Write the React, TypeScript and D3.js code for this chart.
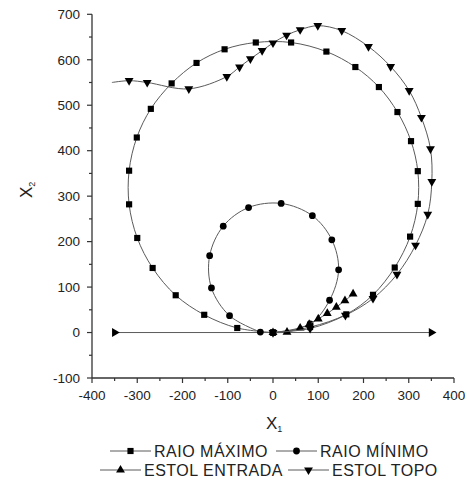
import React from "react";
import * as d3 from "d3";

type P = [number, number];

const xTicks = [-400, -300, -200, -100, 0, 100, 200, 300, 400];
const yTicks = [-100, 0, 100, 200, 300, 400, 500, 600, 700];

const raioMaximo: P[] = [
  [0, 0], [-79, 10], [-152, 39], [-215, 82], [-266, 142], [-300, 208], [-318, 282],
  [-318, 356], [-301, 429], [-270, 492], [-224, 548], [-169, 593], [-107, 623],
  [-38, 638], [40, 638], [118, 618], [182, 584], [234, 540], [275, 485], [305, 421],
  [320, 355], [320, 283], [303, 211], [269, 143], [221, 83], [162, 40], [82, 12], [0, 0],
];

const raioMinimo: P[] = [
  [0, 0], [82, 19], [125, 71], [145, 138], [130, 204], [87, 257], [18, 284],
  [-54, 275], [-110, 234], [-140, 169], [-136, 98], [-96, 37], [-28, 1],
];

const estolEntrada: P[] = [
  [0, 0], [31, 1], [60, 10], [80, 18], [100, 30], [120, 42], [140, 56], [159, 70], [177, 85],
];

const estolTopo: P[] = [
  [0, 0], [82, 9], [160, 38], [221, 75], [274, 128], [315, 192], [342, 260], [351, 332],
  [348, 404], [328, 473], [301, 532], [260, 585], [211, 629], [152, 664], [99, 675],
  [60, 666], [30, 654], [0, 637], [-24, 620], [-50, 602], [-74, 584], [-102, 563],
  [-186, 536], [-278, 550], [-318, 554],
];
const estolTopoTail: P[] = [[-356, 550]];

const eixo: P[] = [[-350, 0], [350, 0]];

const legendRow1 = ["RAIO MÁXIMO", "RAIO MÍNIMO"];
const legendRow2 = ["ESTOL ENTRADA", "ESTOL TOPO"];

const W = 467;
const H = 481;

const x = d3.scaleLinear().domain([-400, 400]).range([92, 454]);
const y = d3.scaleLinear().domain([-100, 700]).range([378, 14.3]);

const line = d3
  .line<P>()
  .x((d) => x(d[0]))
  .y((d) => y(d[1]))
  .curve(d3.curveCatmullRom.alpha(0.5));

const sym = {
  square: d3.symbol().type(d3.symbolSquare).size(38)()!,
  circle: d3.symbol().type(d3.symbolCircle).size(36)()!,
  tri: d3.symbol().type(d3.symbolTriangle).size(34)()!,
};

type Kind = "square" | "circle" | "up" | "down" | "right";

function Marker({ cx, cy, kind }: { cx: number; cy: number; kind: Kind }) {
  if (kind === "square") return <path d={sym.square} transform={`translate(${cx},${cy})`} fill="#000" />;
  if (kind === "circle") return <path d={sym.circle} transform={`translate(${cx},${cy})`} fill="#000" />;
  const rot = kind === "up" ? 0 : kind === "down" ? 180 : 90;
  return <path d={sym.tri} transform={`translate(${cx},${cy}) rotate(${rot})`} fill="#000" />;
}

const lineColor = "#5a5a5a";
const axisColor = "#333";
const textColor = "#222";
const font = "'Liberation Sans', Arial, Helvetica, sans-serif";

function Series({ data, kind, tail = [] }: { data: P[]; kind: Kind; tail?: P[] }) {
  return (
    <g>
      <path d={line([...data, ...tail]) || ""} fill="none" stroke={lineColor} strokeWidth={1} />
      {data.map((d, i) => (
        <Marker key={i} cx={x(d[0])} cy={y(d[1])} kind={kind} />
      ))}
    </g>
  );
}

function LegendItem({ x0, yy, kind, label }: { x0: number; yy: number; kind: Kind; label: string }) {
  return (
    <g>
      <line x1={x0} x2={x0 + 41} y1={yy} y2={yy} stroke={lineColor} strokeWidth={1} />
      <Marker cx={x0 + 20.5} cy={yy} kind={kind} />
      <text
        x={x0 + 44}
        y={yy + 5.5}
        fontSize={16}
        letterSpacing={0.5}
        fill={textColor}
        fontFamily={font}
      >
        {label}
      </text>
    </g>
  );
}

export default function App() {
  const xMinor = d3.range(-400, 401, 50);
  const yMinor = d3.range(-100, 701, 50);
  return (
    <svg
      width={W}
      height={H}
      style={{ position: "absolute", left: 0, top: 0, background: "#fff" }}
      fontFamily={font}
    >
      <rect width={W} height={H} fill="#fff" />
      {/* axes */}
      <line x1={x(-400)} x2={x(-400)} y1={y(-100)} y2={y(700)} stroke={axisColor} strokeWidth={1.3} />
      <line x1={x(-400)} x2={x(400)} y1={y(-100)} y2={y(-100)} stroke={axisColor} strokeWidth={1.3} />
      {yMinor.map((v) => (
        <line
          key={"ym" + v}
          x1={x(-400)}
          x2={x(-400) - (v % 100 === 0 ? 5 : 3)}
          y1={y(v)}
          y2={y(v)}
          stroke={axisColor}
          strokeWidth={1.2}
        />
      ))}
      {xMinor.map((v) => (
        <line
          key={"xm" + v}
          x1={x(v)}
          x2={x(v)}
          y1={y(-100)}
          y2={y(-100) + (v % 100 === 0 ? 5 : 3)}
          stroke={axisColor}
          strokeWidth={1.2}
        />
      ))}
      {xTicks.map((v) => (
        <text key={"xt" + v} x={x(v)} y={400} textAnchor="middle" fontSize={13.5} fill={textColor}>
          {v}
        </text>
      ))}
      {yTicks.map((v) => (
        <text key={"yt" + v} x={80} y={y(v) + 4.8} textAnchor="end" fontSize={13.5} fill={textColor}>
          {v}
        </text>
      ))}
      {/* axis titles */}
      <text x={266} y={429} fontSize={17} fill={textColor}>
        X<tspan fontSize={9} dy={3}>1</tspan>
      </text>
      <text transform="translate(32,198) rotate(-90)" fontSize={17} fill={textColor}>
        X<tspan fontSize={9} dy={3}>2</tspan>
      </text>

      {/* data */}
      <Series data={eixo} kind="right" />
      <Series data={raioMaximo} kind="square" />
      <Series data={raioMinimo} kind="circle" />
      <Series data={estolEntrada} kind="up" />
      <Series data={estolTopo} kind="down" tail={estolTopoTail} />

      {/* legend */}
      <LegendItem x0={110} yy={451} kind="square" label={legendRow1[0]} />
      <LegendItem x0={276} yy={451} kind="circle" label={legendRow1[1]} />
      <LegendItem x0={100} yy={470} kind="up" label={legendRow2[0]} />
      <LegendItem x0={288} yy={470} kind="down" label={legendRow2[1]} />
    </svg>
  );
}
